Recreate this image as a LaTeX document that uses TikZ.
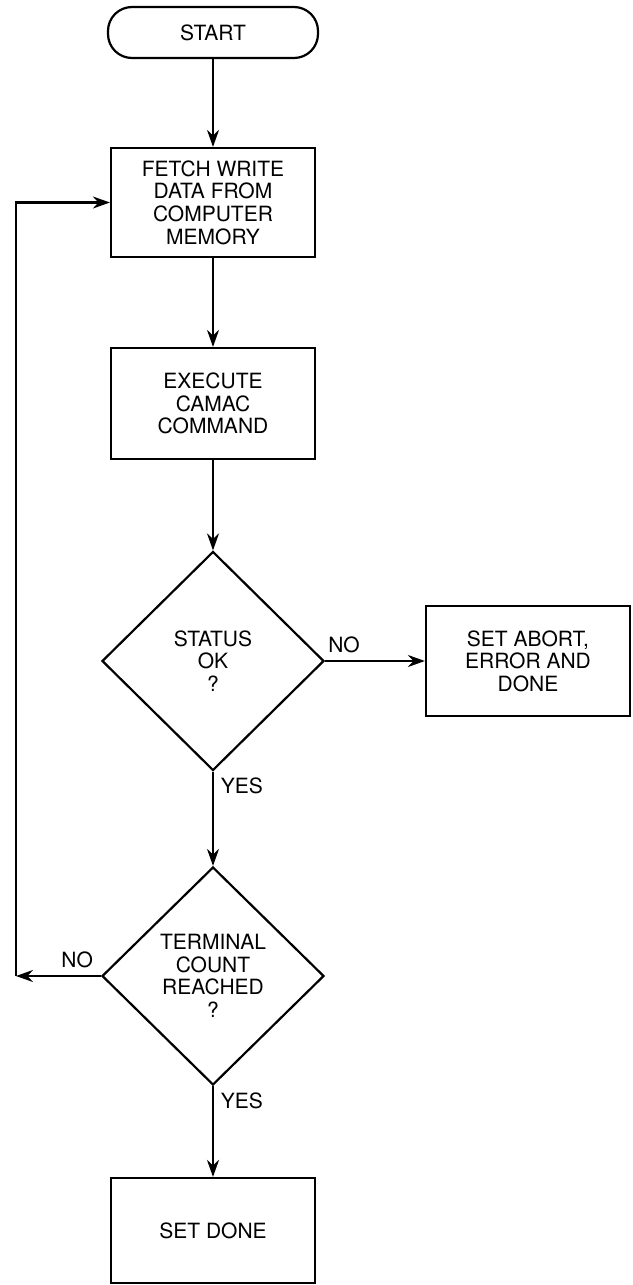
\documentclass[tikz,border=0pt]{standalone}
\usepackage{fontspec}
\setmainfont{TeX Gyre Heros}
\usetikzlibrary{shapes.geometric,arrows.meta,positioning}
\tikzstyle{startstop} = [rectangle, rounded corners=12pt, minimum width=105pt, minimum height=25.5pt, text centered, draw=black, line width=1.1pt]
\tikzstyle{process} = [rectangle, minimum width=102pt, minimum height=55pt, align=center, draw=black, line width=1.1pt]
\tikzstyle{decision} = [diamond, aspect=1, minimum width=111pt, minimum height=109.5pt, inner sep=0pt, align=center, draw=black, line width=1.1pt]
\tikzstyle{arrow} = [line width=1.1pt,-{Stealth[length=8.5pt,width=6pt]}]

\begin{document}
\begin{tikzpicture}[node distance=85pt, font=\fontsize{10.5}{11.3}\selectfont]
	\useasboundingbox (0,0) rectangle (316pt,-642.5pt);

	\node (start) [startstop] at (106.5pt,-16.25pt) {START};

	\node (fetch) [process, below of=start, minimum height=54.5pt] {FETCH WRITE\\DATA FROM\\COMPUTER\\MEMORY};

	\node (exec) [process, below of=fetch, node distance=100.5pt, minimum height=55.5pt] {EXECUTE\\CAMAC\\COMMAND};

	\node (status) [decision, below of=exec, node distance=128.75pt] {STATUS\\OK\\?};
	\node (abort) [process, right of=status, node distance=157.5pt] {SET ABORT,\\ERROR AND\\DONE};

	\node (count) [decision, below of=status, node distance=157.5pt, minimum height=109pt] {TERMINAL\\COUNT\\REACHED\\?};
	\node (done) [process, below of=count, node distance=127.25pt, minimum height=52.5pt] {SET DONE};

	\coordinate [left of=count, node distance=98.5pt] (back);

	%

	\draw[arrow] (start) -- (fetch);
	\draw[arrow] (fetch) -- (exec);
	\draw[arrow] (exec) -- (status);
	\draw[arrow] (status) -- (abort) node [pos=0.19,above] {NO};
	\draw[arrow] (status) -- (count) node [pos=0.15,right] {YES};
	\draw[arrow] (count) -- (done) node [pos=0.16,right] {YES};
	\draw[arrow] (count) -- (back) node [pos=0.28,above] {NO};
	\draw[arrow] (back) |- (fetch);

\end{tikzpicture}
\end{document}
